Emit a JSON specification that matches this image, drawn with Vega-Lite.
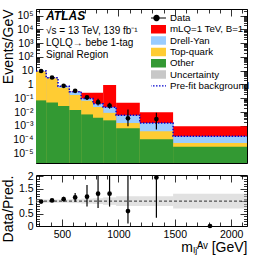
{
  "$schema": "https://vega.github.io/schema/vega-lite/v6.json",
  "padding": {"left": 0, "top": 8, "right": 20, "bottom": 0},
  "config": {
    "font": "Liberation Sans",
    "view": {"stroke": "black", "strokeWidth": 1},
    "axis": {"domain": false, "grid": false, "labelFont": "Liberation Sans", "titleFont": "Liberation Sans", "labelFontSize": 10.5, "titleFontSize": 14, "titleFontWeight": "normal", "tickColor": "black", "labelColor": "black", "titleColor": "black", "tickWidth": 0.8}
  },
  "datasets": {
    "stack": [
      {"p": "mLQ=1 TeV, B=1", "lo": 270, "hi": 360, "top": 9.66},
      {"p": "mLQ=1 TeV, B=1", "lo": 360, "hi": 465, "top": 3.105},
      {"p": "mLQ=1 TeV, B=1", "lo": 465, "hi": 565, "top": 0.742},
      {"p": "mLQ=1 TeV, B=1", "lo": 565, "hi": 670, "top": 0.305},
      {"p": "mLQ=1 TeV, B=1", "lo": 670, "hi": 775, "top": 0.25},
      {"p": "mLQ=1 TeV, B=1", "lo": 775, "hi": 865, "top": 0.25},
      {"p": "mLQ=1 TeV, B=1", "lo": 865, "hi": 980, "top": 0.92},
      {"p": "mLQ=1 TeV, B=1", "lo": 980, "hi": 1190, "top": 0.047},
      {"p": "mLQ=1 TeV, B=1", "lo": 1190, "hi": 1485, "top": 0.0098},
      {"p": "mLQ=1 TeV, B=1", "lo": 1485, "hi": 2140, "top": 0.00093},
      {"p": "Drell-Yan", "lo": 270, "hi": 360, "top": 9.65},
      {"p": "Drell-Yan", "lo": 360, "hi": 465, "top": 3.1},
      {"p": "Drell-Yan", "lo": 465, "hi": 565, "top": 0.74},
      {"p": "Drell-Yan", "lo": 565, "hi": 670, "top": 0.3},
      {"p": "Drell-Yan", "lo": 670, "hi": 775, "top": 0.097},
      {"p": "Drell-Yan", "lo": 775, "hi": 865, "top": 0.04},
      {"p": "Drell-Yan", "lo": 865, "hi": 980, "top": 0.0226},
      {"p": "Drell-Yan", "lo": 980, "hi": 1190, "top": 0.0059},
      {"p": "Drell-Yan", "lo": 1190, "hi": 1485, "top": 0.0016},
      {"p": "Drell-Yan", "lo": 1485, "hi": 2140, "top": 0.000174},
      {"p": "Top-quark", "lo": 270, "hi": 360, "top": 9.2},
      {"p": "Top-quark", "lo": 360, "hi": 465, "top": 2.8},
      {"p": "Top-quark", "lo": 465, "hi": 565, "top": 0.57},
      {"p": "Top-quark", "lo": 565, "hi": 670, "top": 0.17},
      {"p": "Top-quark", "lo": 670, "hi": 775, "top": 0.066},
      {"p": "Top-quark", "lo": 775, "hi": 865, "top": 0.023},
      {"p": "Top-quark", "lo": 865, "hi": 980, "top": 0.0087},
      {"p": "Top-quark", "lo": 980, "hi": 1190, "top": 0.0016},
      {"p": "Top-quark", "lo": 1190, "hi": 1485, "top": 0.0004},
      {"p": "Top-quark", "lo": 1485, "hi": 2140, "top": 0.000056},
      {"p": "Other", "lo": 270, "hi": 360, "top": 0.07},
      {"p": "Other", "lo": 360, "hi": 465, "top": 0.05},
      {"p": "Other", "lo": 465, "hi": 565, "top": 0.027},
      {"p": "Other", "lo": 565, "hi": 670, "top": 0.014},
      {"p": "Other", "lo": 670, "hi": 775, "top": 0.0067},
      {"p": "Other", "lo": 775, "hi": 865, "top": 0.0038},
      {"p": "Other", "lo": 865, "hi": 980, "top": 0.0025},
      {"p": "Other", "lo": 980, "hi": 1190, "top": 0.00066},
      {"p": "Other", "lo": 1190, "hi": 1485, "top": 0.000105},
      {"p": "Other", "lo": 1485, "hi": 2140, "top": 0.00003}
    ],
    "prefit": [
      {"e": 270, "v": 9.65}, {"e": 360, "v": 3.1}, {"e": 465, "v": 0.74}, {"e": 565, "v": 0.3},
      {"e": 670, "v": 0.097}, {"e": 775, "v": 0.04}, {"e": 865, "v": 0.0226}, {"e": 980, "v": 0.0059},
      {"e": 1190, "v": 0.0016}, {"e": 1485, "v": 0.000174}, {"e": 2140, "v": 0.000174}
    ],
    "pts": [
      {"c": 315, "d": 9.5, "dlo": 9.2, "dhi": 9.8, "r": 0.98, "rlo": 0.95, "rhi": 1.01},
      {"c": 412, "d": 3.2, "dlo": 3.02, "dhi": 3.38, "r": 1.03, "rlo": 0.97, "rhi": 1.09},
      {"c": 515, "d": 0.8, "dlo": 0.72, "dhi": 0.88, "r": 1.08, "rlo": 0.98, "rhi": 1.18},
      {"c": 617, "d": 0.345, "dlo": 0.29, "dhi": 0.4, "r": 1.15, "rlo": 0.97, "rhi": 1.33},
      {"c": 722, "d": 0.114, "dlo": 0.075, "dhi": 0.16, "r": 1.18, "rlo": 0.78, "rhi": 1.65},
      {"c": 820, "d": 0.052, "dlo": 0.03, "dhi": 0.092, "r": 1.3, "rlo": 0.72, "rhi": 2.3},
      {"c": 922, "d": 0.0294, "dlo": 0.0175, "dhi": 0.047, "r": 1.3, "rlo": 0.78, "rhi": 2.1},
      {"c": 1085, "d": 0.0035, "dlo": 0.00093, "dhi": 0.0154, "r": 0.6, "rlo": 0.1, "rhi": 2.6},
      {"c": 1337, "d": 0.0031, "dlo": 0.00053, "dhi": 0.0088, "r": 1.95, "rlo": 0.33, "rhi": 5.5},
      {"c": 1812, "d": null, "dlo": null, "dhi": null, "r": 0, "rlo": 0, "rhi": 0}
    ],
    "unc": [
      {"lo": 270, "hi": 360, "ulo": 0.93, "uhi": 1.07},
      {"lo": 360, "hi": 465, "ulo": 0.93, "uhi": 1.07},
      {"lo": 465, "hi": 565, "ulo": 0.93, "uhi": 1.07},
      {"lo": 565, "hi": 670, "ulo": 0.92, "uhi": 1.08},
      {"lo": 670, "hi": 775, "ulo": 0.9, "uhi": 1.1},
      {"lo": 775, "hi": 865, "ulo": 0.88, "uhi": 1.12},
      {"lo": 865, "hi": 980, "ulo": 0.85, "uhi": 1.15},
      {"lo": 980, "hi": 1190, "ulo": 0.8, "uhi": 1.2},
      {"lo": 1190, "hi": 1485, "ulo": 0.8, "uhi": 1.2},
      {"lo": 1485, "hi": 2140, "ulo": 0.7, "uhi": 1.3}
    ]
  },
  "spacing": 6,
  "resolve": {"legend": {"color": "independent"}},
  "vconcat": [
    {
      "width": 211,
      "height": 154,
      "resolve": {"axis": {"x": "independent", "y": "independent"}},
      "layer": [
        {
          "data": {"name": "stack"},
          "mark": {"type": "rect", "clip": true},
          "encoding": {
            "x": {"field": "lo", "type": "quantitative", "scale": {"domain": [270, 2140], "nice": false, "zero": false},
              "axis": {"orient": "bottom", "values": [300,400,500,600,700,800,900,1000,1100,1200,1300,1400,1500,1600,1700,1800,1900,2000,2100], "labels": false, "title": null,
                "tickSize": {"condition": {"test": "datum.value % 500 === 0", "value": -7}, "value": -4}}},
            "x2": {"field": "hi"},
            "y": {"field": "top", "type": "quantitative", "scale": {"type": "log", "domain": [2e-6, 3e5], "nice": false},
              "axis": {"orient": "left", "title": "Events/GeV", "titleAnchor": "end", "minExtent": 19, "maxExtent": 19, "titlePadding": 2, "labelPadding": 10,
                "values": [1e-5,1e-4,1e-3,0.01,0.1,1,10,100,1000,10000,100000,2e-6,3e-6,4e-6,5e-6,6e-6,7e-6,8e-6,9e-6,2e-5,3e-5,4e-5,5e-5,6e-5,7e-5,8e-5,9e-5,2e-4,3e-4,4e-4,5e-4,6e-4,7e-4,8e-4,9e-4,2e-3,3e-3,4e-3,5e-3,6e-3,7e-3,8e-3,9e-3,0.02,0.03,0.04,0.05,0.06,0.07,0.08,0.09,0.2,0.3,0.4,0.5,0.6,0.7,0.8,0.9,2,3,4,5,6,7,8,9,20,30,40,50,60,70,80,90,200,300,400,500,600,700,800,900,2000,3000,4000,5000,6000,7000,8000,9000,20000,30000,40000,50000,60000,70000,80000,90000,200000,300000],
                "labelExpr": "abs(log(datum.value)/LN10 - round(log(datum.value)/LN10)) > 0.01 ? '' : round(log(datum.value)/LN10) == 0 ? '1' : round(log(datum.value)/LN10) == 1 ? '10' : '10' + replace(replace(replace(replace(replace(replace('' + round(log(datum.value)/LN10), '-', '⁻'), '1', '¹'), '2', '²'), '3', '³'), '4', '⁴'), '5', '⁵')",
                "tickSize": {"condition": {"test": "abs(log(datum.value)/LN10 - round(log(datum.value)/LN10)) < 0.01", "value": -7}, "value": -3.5}}},
            "y2": {"datum": 2e-6},
            "color": {"field": "p", "type": "nominal",
              "scale": {"domain": ["Data", "mLQ=1 TeV, B=1", "Drell-Yan", "Top-quark", "Other", "Uncertainty", "Pre-fit background"],
                "range": ["#000000", "#ff0000", "#99ccff", "#ffcc33", "#339933", "#c8c8c8", "#0000cc"]},
              "legend": {"orient": "none", "legendX": 115, "legendY": 3.5, "title": null, "padding": 0, "labelFont": "Liberation Sans", "labelFontSize": 9.7, "labelColor": "black", "symbolSize": 90, "clipHeight": 11, "rowPadding": 0.3, "labelOffset": 8, "symbolOpacity": 1, "symbolStrokeWidth": 1.2,
                "encode": {"symbols": {"update": {
                  "shape": {"signal": "datum.value === 'Data' ? 'M-2,0H2M0.55,0A0.55,0.55,0,1,1,-0.55,0A0.55,0.55,0,1,1,0.55,0' : datum.value === 'Pre-fit background' ? 'M-2,0H2' : 'M-2,-0.9H2V0.9H-2Z'"},
                  "stroke": {"signal": "datum.value === 'Data' ? '#000000' : datum.value === 'Pre-fit background' ? '#0000cc' : 'transparent'"},
                  "strokeDash": {"signal": "datum.value === 'Pre-fit background' ? [1.5, 1.5] : [1, 0]"}
                }}}}}
          }
        },
        {
          "data": {"name": "prefit"},
          "mark": {"type": "line", "interpolate": "step-after", "color": "#0000cc", "strokeDash": [1.5, 1.5], "strokeWidth": 1.5, "clip": true},
          "encoding": {
            "x": {"field": "e", "type": "quantitative",
              "axis": {"orient": "top", "values": [300,400,500,600,700,800,900,1000,1100,1200,1300,1400,1500,1600,1700,1800,1900,2000,2100], "labels": false, "title": null,
                "tickSize": {"condition": {"test": "datum.value % 500 === 0", "value": -7}, "value": -4}}},
            "y": {"field": "v", "type": "quantitative",
              "axis": {"orient": "right", "labels": false, "title": null,
                "values": [1e-5,1e-4,1e-3,0.01,0.1,1,10,100,1000,10000,100000,2e-6,3e-6,4e-6,5e-6,6e-6,7e-6,8e-6,9e-6,2e-5,3e-5,4e-5,5e-5,6e-5,7e-5,8e-5,9e-5,2e-4,3e-4,4e-4,5e-4,6e-4,7e-4,8e-4,9e-4,2e-3,3e-3,4e-3,5e-3,6e-3,7e-3,8e-3,9e-3,0.02,0.03,0.04,0.05,0.06,0.07,0.08,0.09,0.2,0.3,0.4,0.5,0.6,0.7,0.8,0.9,2,3,4,5,6,7,8,9,20,30,40,50,60,70,80,90,200,300,400,500,600,700,800,900,2000,3000,4000,5000,6000,7000,8000,9000,20000,30000,40000,50000,60000,70000,80000,90000,200000,300000],
                "tickSize": {"condition": {"test": "abs(log(datum.value)/LN10 - round(log(datum.value)/LN10)) < 0.01", "value": -7}, "value": -3.5}}}
          }
        },
        {
          "data": {"name": "pts"},
          "mark": {"type": "rule", "color": "black", "strokeWidth": 1.2, "clip": true},
          "encoding": {
            "x": {"field": "c", "type": "quantitative", "axis": null},
            "y": {"field": "dlo", "type": "quantitative", "axis": null},
            "y2": {"field": "dhi"}
          }
        },
        {
          "data": {"name": "pts"},
          "mark": {"type": "circle", "color": "black", "size": 22, "opacity": 1},
          "encoding": {
            "x": {"field": "c", "type": "quantitative", "axis": null},
            "y": {"field": "d", "type": "quantitative", "axis": null}
          }
        },
        {
          "data": {"values": [{}]},
          "mark": {"type": "text", "text": "ATLAS", "fontWeight": "bold", "fontStyle": "italic", "fontSize": 12, "align": "left", "baseline": "alphabetic", "font": "Liberation Sans"},
          "encoding": {"x": {"datum": 359, "type": "quantitative", "axis": null}, "y": {"datum": 51000, "type": "quantitative", "axis": null}}
        },
        {
          "data": {"values": [{}]},
          "mark": {"type": "text", "text": "√s = 13 TeV, 139 fb⁻¹", "fontSize": 10, "align": "left", "baseline": "alphabetic", "font": "Liberation Sans"},
          "encoding": {"x": {"datum": 359, "type": "quantitative", "axis": null}, "y": {"datum": 4900, "type": "quantitative", "axis": null}}
        },
        {
          "data": {"values": [{}]},
          "mark": {"type": "text", "text": "LQLQ→ bebe 1-tag", "fontSize": 10, "align": "left", "baseline": "alphabetic", "font": "Liberation Sans"},
          "encoding": {"x": {"datum": 359, "type": "quantitative", "axis": null}, "y": {"datum": 640, "type": "quantitative", "axis": null}}
        },
        {
          "data": {"values": [{}]},
          "mark": {"type": "text", "text": "Signal Region", "fontSize": 10, "align": "left", "baseline": "alphabetic", "font": "Liberation Sans"},
          "encoding": {"x": {"datum": 359, "type": "quantitative", "axis": null}, "y": {"datum": 87, "type": "quantitative", "axis": null}}
        }
      ]
    },
    {
      "width": 211,
      "height": 51,
      "resolve": {"axis": {"x": "independent", "y": "independent"}},
      "layer": [
        {
          "data": {"name": "unc"},
          "mark": {"type": "rect", "color": "#c4c4c4", "opacity": 0.5},
          "encoding": {
            "x": {"field": "lo", "type": "quantitative", "scale": {"domain": [270, 2140], "nice": false, "zero": false},
              "axis": {"orient": "bottom", "values": [300,400,500,600,700,800,900,1000,1100,1200,1300,1400,1500,1600,1700,1800,1900,2000,2100],
                "labelExpr": "datum.value % 500 === 0 ? format(datum.value, 'd') : ''", "labelPadding": 10, "labelFlush": false,
                "title": "mₗⱼᴬᵛ [GeV]", "titleAnchor": "end", "titleFontSize": 14, "titlePadding": 1,
                "tickSize": {"condition": {"test": "datum.value % 500 === 0", "value": -7}, "value": -4}}},
            "x2": {"field": "hi"},
            "y": {"field": "ulo", "type": "quantitative", "scale": {"domain": [0, 2.05], "nice": false, "zero": false},
              "axis": {"orient": "left", "title": "Data/Pred.", "titleAnchor": "end", "minExtent": 19, "maxExtent": 19, "titlePadding": 2, "labelPadding": 10,
                "values": [0,0.5,1,1.5,2,0.1,0.2,0.3,0.4,0.6,0.7,0.8,0.9,1.1,1.2,1.3,1.4,1.6,1.7,1.8,1.9],
                "labelExpr": "abs(datum.value*2 - round(datum.value*2)) < 0.01 ? format(datum.value, '~g') : ''",
                "tickSize": {"condition": {"test": "abs(datum.value*2 - round(datum.value*2)) < 0.01", "value": -7}, "value": -3.5}}},
            "y2": {"field": "uhi"}
          }
        },
        {
          "data": {"values": [{}]},
          "mark": {"type": "rule", "color": "black", "strokeDash": [3, 2], "strokeWidth": 0.8},
          "encoding": {"y": {"datum": 1, "type": "quantitative", "axis": null}}
        },
        {
          "data": {"name": "pts"},
          "mark": {"type": "rule", "color": "black", "strokeWidth": 1.2, "clip": true},
          "encoding": {
            "x": {"field": "c", "type": "quantitative", "axis": null},
            "y": {"field": "rlo", "type": "quantitative", "axis": null},
            "y2": {"field": "rhi"}
          }
        },
        {
          "data": {"name": "pts"},
          "mark": {"type": "circle", "color": "black", "size": 22, "opacity": 1},
          "encoding": {
            "x": {"field": "c", "type": "quantitative",
              "axis": {"orient": "top", "values": [300,400,500,600,700,800,900,1000,1100,1200,1300,1400,1500,1600,1700,1800,1900,2000,2100], "labels": false, "title": null,
                "tickSize": {"condition": {"test": "datum.value % 500 === 0", "value": -7}, "value": -4}}},
            "y": {"field": "r", "type": "quantitative",
              "axis": {"orient": "right", "labels": false, "title": null,
                "values": [0,0.5,1,1.5,2,0.1,0.2,0.3,0.4,0.6,0.7,0.8,0.9,1.1,1.2,1.3,1.4,1.6,1.7,1.8,1.9],
                "tickSize": {"condition": {"test": "abs(datum.value*2 - round(datum.value*2)) < 0.01", "value": -7}, "value": -3.5}}}
          }
        }
      ]
    }
  ]
}
